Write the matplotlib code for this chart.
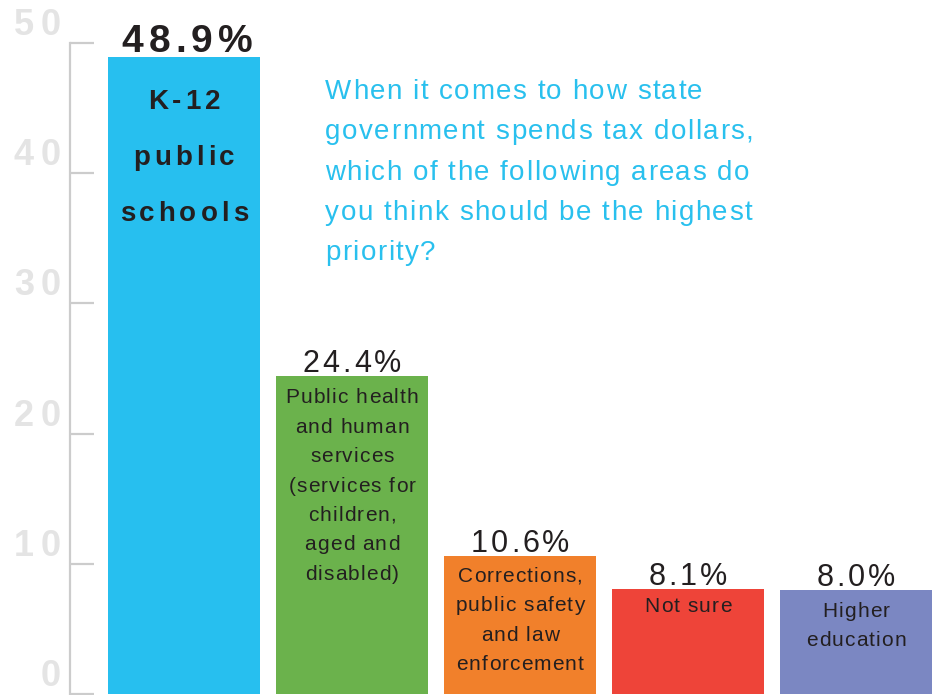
import matplotlib
matplotlib.use('Agg')
import matplotlib.pyplot as plt
from matplotlib.font_manager import FontProperties

plt.rcParams['font.family'] = ['Liberation Sans', 'DejaVu Sans']

# data
categories = ['K-12 public schools', 'Public health and human services',
              'Corrections, public safety and law enforcement', 'Not sure',
              'Higher education']
values = [48.9, 24.4, 10.6, 8.1, 8.0]
value_labels = ['48.9%', '24.4%', '10.6%', '8.1%', '8.0%']
bar_lines = [
    ['K-12', 'public', 'schools'],
    ['Public health', 'and human', 'services', '(services for', 'children,',
     'aged and', 'disabled)'],
    ['Corrections,', 'public safety', 'and law', 'enforcement'],
    ['Not sure'],
    ['Higher', 'education'],
]
colors = ['#27bfef', '#6bb24c', '#f1802b', '#ee4439', '#7b87c2']
yticks = [0, 10, 20, 30, 40, 50]
question = ['When it comes to how state', 'government spends tax dollars,',
            'which of the following areas do', 'you think should be the highest',
            'priority?']

DARK = '#231f20'
W, H, DPI = 951, 695, 100

fig = plt.figure(figsize=(W / DPI, H / DPI), dpi=DPI)
ax = fig.add_axes([70 / W, 1 / H, (W - 70) / W, 651 / H])
renderer = fig.canvas.get_renderer()


def advance(c, prop):
    # advance width of one character in pixels
    w1 = renderer.get_text_width_height_descent('x' + c + 'x', prop, ismath=False)[0]
    w0 = renderer.get_text_width_height_descent('xx', prop, ismath=False)[0]
    return w1 - w0


def spaced_text(xy, s, dx, dy, track, size, weight='normal', color=DARK,
                ha='center', xycoords='data'):
    # draw a string with extra letter spacing; baseline at xy + (dx, dy) pixels
    prop = FontProperties(family=['Liberation Sans'], size=size, weight=weight)
    widths = [advance(c, prop) for c in s]
    total = sum(widths) + track * (len(s) - 1)
    if ha == 'center':
        pos = dx - total / 2
    elif ha == 'right':
        pos = dx - total
    else:
        pos = dx
    for c, w in zip(s, widths):
        if c != ' ':
            ax.annotate(c, xy, xycoords=xycoords, xytext=(pos, dy),
                        textcoords='offset pixels', ha='left', va='baseline',
                        fontproperties=prop, color=color, annotation_clip=False)
        pos += w + track


x = list(range(len(values)))
ax.bar(x, values, width=152 / 168, color=colors, zorder=2)
ax.set_xlim((70 - 184) / 168, (951 - 184) / 168)
ax.set_ylim(0, 50)

for s in ['top', 'right', 'bottom']:
    ax.spines[s].set_visible(False)
ax.spines['left'].set_color('#cccccc')
ax.spines['left'].set_linewidth(1.6)
ax.set_xticks([])
ax.set_yticks(yticks)
ax.set_yticklabels([])
ax.tick_params(axis='y', direction='in', length=17, width=1.6, color='#cccccc')

for t in yticks:
    spaced_text((0, t), str(t), -9, 8, 7, 26, weight='bold', color='#e4e4e4',
                ha='right', xycoords=('axes fraction', 'data'))

# value labels above bars
for i, (v, lab) in enumerate(zip(values, value_labels)):
    if i == 0:
        spaced_text((i, v), lab, 3, 5, 5, 28, weight='bold')
    else:
        spaced_text((i, v), lab, 0, 4, 3, 22)

# category text inside bars
first_off = [52, 27, 26, 23, 27]
for i, (v, lines) in enumerate(zip(values, bar_lines)):
    for j, line in enumerate(lines):
        if i == 0:
            spaced_text((i, v), line, 0, -(first_off[i] + 56 * j), 4, 20,
                        weight='bold')
        else:
            spaced_text((i, v), line, 0, -(first_off[i] + 29.4 * j), 1.1, 15)

# question text
for j, line in enumerate(question):
    spaced_text((325, H - 99 - 40.3 * j), line, 0, 0, 1.5, 20, color='#29c0ee',
                ha='left', xycoords='figure pixels')

fig.savefig('out.png', dpi=DPI)
